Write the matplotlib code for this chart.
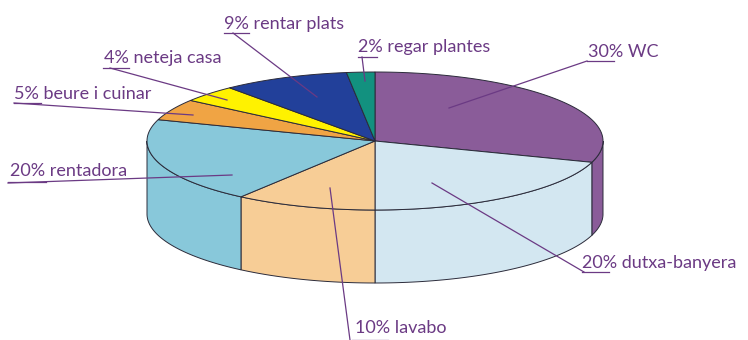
import numpy as np
import matplotlib
matplotlib.use('Agg')
from matplotlib import pyplot as plt
from matplotlib.patches import Polygon

# Consum d'aigua domèstic (%)
categories = ['WC', 'dutxa-banyera', 'lavabo', 'rentadora',
              'beure i cuinar', 'neteja casa', 'rentar plats', 'regar plantes']
valors = [30, 20, 10, 20, 5, 4, 9, 2]
colors = ['#8a5c99', '#d3e7f1', '#f7cd96', '#88c8da',
          '#f0a444', '#fff200', '#22409a', '#12917f']

# Geometria del pastís (en píxels)
cx, cy = 375, 141
ra, rb = 228, 69
gruix = 73
linia = '#2b2b3a'
text_color = '#6b3a84'

fig = plt.figure(figsize=(7.48, 3.4), dpi=100)
ax = fig.add_axes([0, 0, 1, 1])
ax.set_xlim(0, 748)
ax.set_ylim(340, 0)
ax.axis('off')


def punt(t, dy=0):
    t = np.radians(t)
    return cx + ra * np.cos(t), cy - rb * np.sin(t) + dy


def arc(t0, t1, dy=0, n=80):
    ts = np.linspace(t0, t1, n)
    return [punt(t, dy) for t in ts]


# angles de cada porció, començant a dalt i en sentit horari
angles = []
a = 90.0
for v in valors:
    a1 = a - v * 3.6
    angles.append((a, a1))
    a = a1

# cares laterals (només la meitat de davant és visible)
for (a0, a1), col in zip(angles, colors):
    for despl in (0, -360):
        lo = max(min(a0, a1) + despl, -180)
        hi = min(max(a0, a1) + despl, 0)
        if lo >= hi:
            continue
        top = arc(hi, lo)
        bot = arc(lo, hi, dy=gruix)
        ax.add_patch(Polygon(top + bot, closed=True, facecolor=col,
                             edgecolor=linia, linewidth=0.7, zorder=1))

# cares de dalt
for (a0, a1), col in zip(angles, colors):
    pts = [(cx, cy)] + arc(a0, a1)
    ax.add_patch(Polygon(pts, closed=True, facecolor=col,
                         edgecolor=linia, linewidth=0.7, zorder=2))

# etiquetes: text, posició, subratllat i línia guia
etiquetes = [
    ('30% WC', (588, 57), (587, 614, 61), (587, 61), (449, 108)),
    ('20% dutxa-banyera', (582, 268), (582, 609, 272), (584, 272), (432, 183)),
    ('10% lavabo', (355, 333), (352, 388, 340), (350, 340), (330, 188)),
    ('20% rentadora', (10, 176), (8, 46, 182), (8, 183), (232, 175)),
    ('5% beure i cuinar', (14, 99), (14, 41, 103), (14, 103), (193, 115)),
    ('4% neteja casa', (104, 63), (103, 129, 68), (110, 68), (227, 100)),
    ('9% rentar plats', (224, 29), (224, 249, 33), (233, 33), (317, 97)),
    ('2% regar plantes', (358, 52), (358, 377, 57), (362, 57), (365, 81)),
]

for txt, (tx, ty), (ux0, ux1, uy), p0, p1 in etiquetes:
    ax.text(tx, ty, txt, fontsize=13, family='Lato', color=text_color,
            ha='left', va='baseline', zorder=5)
    ax.plot([ux0, ux1], [uy, uy], color=text_color, linewidth=0.9, zorder=5)
    ax.plot([p0[0], p1[0]], [p0[1], p1[1]], color=text_color,
            linewidth=0.9, zorder=5)

fig.savefig('out.png', dpi=100)
